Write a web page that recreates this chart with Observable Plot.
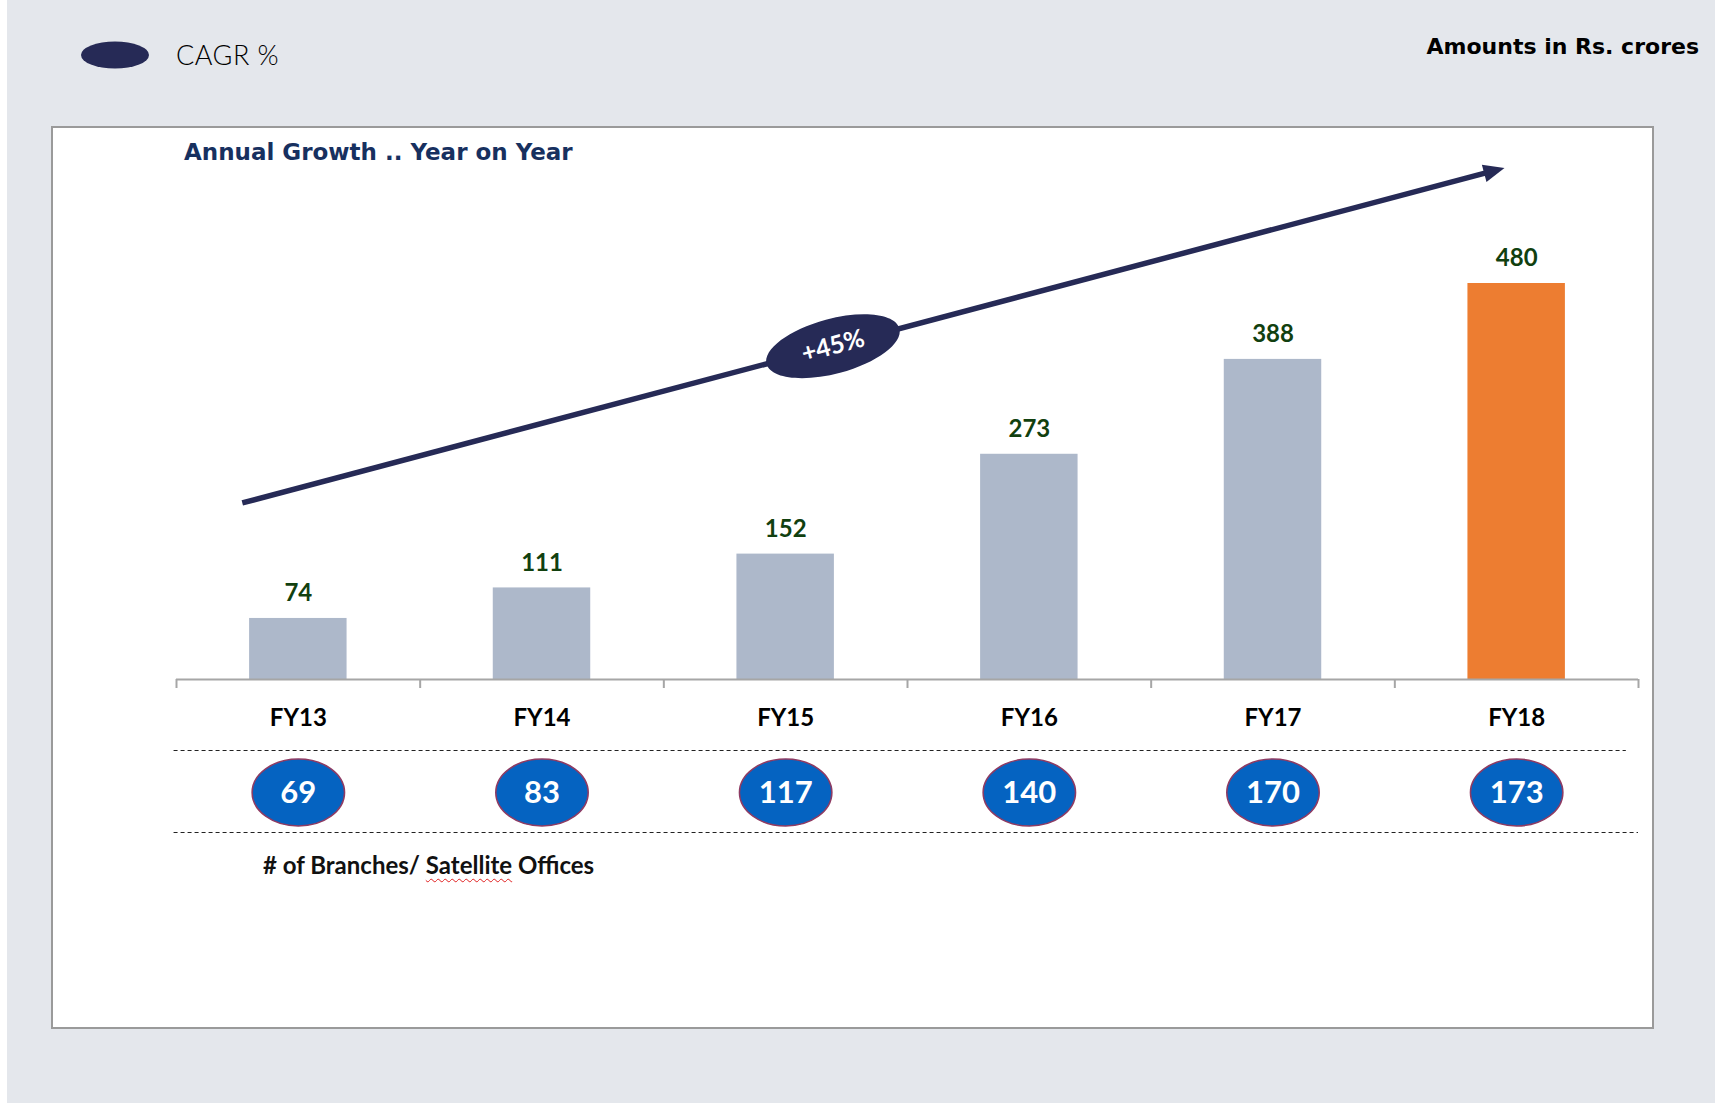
<!DOCTYPE html>
<html>
<head>
<meta charset="utf-8">
<script src="https://cdn.jsdelivr.net/npm/d3@7"></script>
<script src="https://cdn.jsdelivr.net/npm/@observablehq/plot@0.6"></script>
<style>
  html, body { margin: 0; padding: 0; }
  body { width: 1721px; height: 1103px; position: relative; overflow: hidden; background: #ffffff; font-family: Lato, "Open Sans", sans-serif; }
  #bg { position: absolute; left: 7px; top: 0; width: 1708px; height: 1103px; background: #e4e7ec; }
  #panel { position: absolute; left: 51px; top: 126px; width: 1599px; height: 899px; background: #ffffff; border: 2px solid #9a9a9a; }
  .abs { position: absolute; white-space: nowrap; }
  #legend { left: 80px; top: 38px; display: flex; align-items: center; }
  #legend svg { display: block; }
  #legend span { margin-left: 26px; font-size: 27px; color: #000; font-weight: 300; letter-spacing: 0.5px; }
  #units { right: 22px; top: 34px; font-family: "DejaVu Sans", sans-serif; font-size: 22px; font-weight: 700; color: #000; }
  #title { left: 184px; top: 139px; font-family: "DejaVu Sans", sans-serif; font-size: 23px; font-weight: 700; color: #17305f; }
  #branchNote { left: 263px; top: 850px; font-size: 24px; font-weight: 700; color: #111; }
  #branchNote .sp { text-decoration: underline wavy #e02020; text-decoration-thickness: 1px; text-underline-offset: 4px; }
  #chart { position: absolute; left: 0; top: 0; }
</style>
</head>
<body>
<div id="bg"></div>
<div id="panel"></div>
<div id="legend" class="abs">
  <svg width="70" height="30"><ellipse cx="35" cy="15" rx="34" ry="13.5" fill="#262a56"></ellipse></svg>
  <span>CAGR %</span>
</div>
<div id="units" class="abs">Amounts in Rs. crores</div>
<div id="title" class="abs">Annual Growth .. Year on Year</div>
<div id="branchNote" class="abs"># of Branches/ <span class="sp">Satellite</span> Offices</div>
<div id="chart"></div>
<script>
// ---- Data ----
const categories = ["FY13", "FY14", "FY15", "FY16", "FY17", "FY18"];
const revenue = [74, 111, 152, 273, 388, 480];
const branches = [69, 83, 117, 140, 170, 173];
const highlightCategory = "FY18";
const cagrLabel = "+45%";
// CAGR trend arrow annotation (x in category-index units, y in Rs. crores)
const cagrArrowStart = {x: -0.23, y: 214};
const cagrArrowEnd = {x: 4.95, y: 620};

// ---- Styles ----
const barGray = "#adb8ca";
const barOrange = "#ed7d31";
const navy = "#262a56";
const labelGreen = "#11400f";
const bubbleBlue = "#0563c1";
const bubbleStroke = "#8e3b63";

const rows = categories.map((c, i) => ({i, cat: c, value: revenue[i], branches: branches[i],
  color: c === highlightCategory ? barOrange : barGray}));
const boundaries = d3.range(categories.length + 1).map(k => k - 0.5);

const lerp = (a, b, t) => ({x: a.x + (b.x - a.x) * t, y: a.y + (b.y - a.y) * t});
const lineEnd = lerp(cagrArrowStart, cagrArrowEnd, 0.986);
const arrowLine = [{x1: cagrArrowStart.x, y1: cagrArrowStart.y, x2: lineEnd.x, y2: lineEnd.y}];
const arrowTip = [cagrArrowEnd];
const cagrBadge = [{...lerp(cagrArrowStart, cagrArrowEnd, 0.468), label: cagrLabel}];

function ellipseSymbol(aspect) {
  return {
    draw(ctx, size) {
      const r = Math.sqrt(size / Math.PI);
      const rx = r * aspect, ry = r, k = 0.5522847;
      ctx.moveTo(rx, 0);
      ctx.bezierCurveTo(rx, ry * k, rx * k, ry, 0, ry);
      ctx.bezierCurveTo(-rx * k, ry, -rx, ry * k, -rx, 0);
      ctx.bezierCurveTo(-rx, -ry * k, -rx * k, -ry, 0, -ry);
      ctx.bezierCurveTo(rx * k, -ry, rx, -ry * k, rx, 0);
      ctx.closePath();
    }
  };
}
const arrowHeadSymbol = {
  draw(ctx, size) {
    const r = Math.sqrt(size / Math.PI);
    ctx.moveTo(0, 0);
    ctx.lineTo(-2.1 * r, -0.9 * r);
    ctx.lineTo(-2.1 * r, 0.9 * r);
    ctx.closePath();
  }
};

const font = "Lato, 'Open Sans', sans-serif";

const plot = Plot.plot({
  width: 1721,
  height: 1103,
  marginLeft: 176,
  marginRight: 83,
  marginTop: 283,
  marginBottom: 424,
  style: {background: "transparent", overflow: "visible", fontFamily: font},
  x: {type: "linear", domain: [-0.5, categories.length - 0.5], axis: null},
  y: {domain: [0, 480], axis: null},
  color: {type: "identity"},
  marks: [
    // bars
    Plot.rectY(rows, {x1: d => d.i - 0.2, x2: d => d.i + 0.2, y: "value", fill: "color"}),
    // category axis line and ticks
    Plot.ruleY([0], {x1: -0.5, x2: categories.length - 0.5, stroke: "#a6a6a6", strokeWidth: 2}),
    Plot.axisX(boundaries, {anchor: "bottom", tickSize: 9, tickFormat: () => "", stroke: "#a6a6a6", strokeWidth: 2}),
    // value labels
    Plot.text(rows, {x: "i", y: "value", text: d => String(d.value), dy: -25, fill: labelGreen,
      fontWeight: "bold", fontSize: 24}),
    // category labels
    Plot.text(rows, {x: "i", text: "cat", frameAnchor: "bottom", lineAnchor: "middle", dy: 39, fill: "#000",
      fontWeight: "bold", fontSize: 24}),
    // dashed separators
    Plot.ruleY([0], {x1: -0.51, x2: 5.45, dy: 71, stroke: "#222", strokeWidth: 1, strokeDasharray: "4,3"}),
    Plot.ruleY([0], {x1: -0.51, x2: 5.5, dy: 153, stroke: "#222", strokeWidth: 1, strokeDasharray: "4,3"}),
    // branch bubbles
    Plot.dot(rows, {x: "i", frameAnchor: "bottom", dy: 113, symbol: ellipseSymbol(1.38), r: 33.5,
      fill: bubbleBlue, stroke: bubbleStroke, strokeWidth: 1.5}),
    Plot.text(rows, {x: "i", text: d => String(d.branches), frameAnchor: "bottom", lineAnchor: "middle", dy: 114,
      fill: "#fff", fontWeight: "bold", fontSize: 31}),
    // CAGR arrow
    Plot.link(arrowLine, {x1: "x1", y1: "y1", x2: "x2", y2: "y2", stroke: navy, strokeWidth: 5.5}),
    Plot.dot(arrowTip, {x: "x", y: "y", symbol: arrowHeadSymbol, r: 10, fill: navy, stroke: "none", rotate: -14.8}),
    Plot.dot(cagrBadge, {x: "x", y: "y", symbol: ellipseSymbol(2.5), r: 27.5, fill: navy, stroke: "none", rotate: -15}),
    Plot.text(cagrBadge, {x: "x", y: "y", text: "label", rotate: -15, fill: "#fff", fontWeight: "bold", fontSize: 25})
  ]
});
document.getElementById("chart").appendChild(plot);
</script>
</body>
</html>
